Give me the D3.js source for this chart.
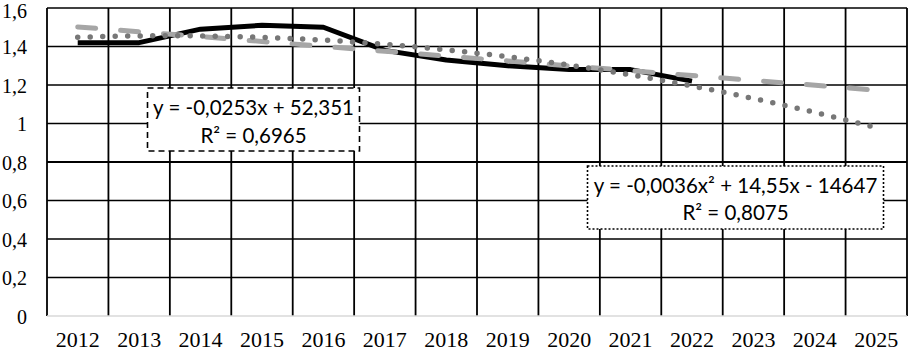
<!DOCTYPE html>
<html>
<head>
<meta charset="utf-8">
<script src="https://cdn.jsdelivr.net/npm/d3@7/dist/d3.min.js"></script>
<style>
  html, body { margin: 0; padding: 0; background: #fff; }
  svg { display: block; }
</style>
</head>
<body>
<svg id="chart" width="909" height="352"></svg>
<script>
// ---- data ----
const categories = ["2012","2013","2014","2015","2016","2017","2018","2019","2020","2021","2022","2023","2024","2025"];
const actualYears = ["2012","2013","2014","2015","2016","2017","2018","2019","2020","2021","2022"];
const actualValues = [1.42, 1.42, 1.49, 1.51, 1.50, 1.38, 1.33, 1.30, 1.28, 1.28, 1.22];
const yTicks = [0, 0.2, 0.4, 0.6, 0.8, 1, 1.2, 1.4, 1.6];
const yTickLabels = ["0", "0,2", "0,4", "0,6", "0,8", "1", "1,2", "1,4", "1,6"];
const linearLabel = ["y = -0,0253x + 52,351", "R² = 0,6965"];
const polyLabel = ["y = -0,0036x² + 14,55x - 14647", "R² = 0,8075"];

// ---- layout ----
const svg = d3.select("#chart");
const L = 47, R = 907, T = 8, B = 316;
const x = d3.scaleBand().domain(categories).range([L, R]).padding(0);
const y = d3.scaleLinear().domain([0, 1.6]).range([B, T]);
const cx = c => x(c) + x.bandwidth() / 2;

// ---- trend fits (least squares on the actual data, like Excel trendlines) ----
const n = actualValues.length;
const xs = actualValues.map((_, i) => i + 1);
function solve3(A, b) {
  const M = A.map((r, i) => [...r, b[i]]);
  for (let i = 0; i < 3; i++) {
    let p = i;
    for (let k = i + 1; k < 3; k++) if (Math.abs(M[k][i]) > Math.abs(M[p][i])) p = k;
    [M[i], M[p]] = [M[p], M[i]];
    for (let k = i + 1; k < 3; k++) {
      const f = M[k][i] / M[i][i];
      for (let j = i; j < 4; j++) M[k][j] -= f * M[i][j];
    }
  }
  const s = [0, 0, 0];
  for (let i = 2; i >= 0; i--) {
    let v = M[i][3];
    for (let j = i + 1; j < 3; j++) v -= M[i][j] * s[j];
    s[i] = v / M[i][i];
  }
  return s;
}
const mx = d3.mean(xs), my = d3.mean(actualValues);
const slope = d3.sum(xs, (v, i) => (v - mx) * (actualValues[i] - my)) / d3.sum(xs, v => (v - mx) ** 2);
const icpt = my - slope * mx;
const S = k => d3.sum(xs, v => v ** k);
const Sy = k => d3.sum(xs, (v, i) => v ** k * actualValues[i]);
const [c0, c1, c2] = solve3([[n, S(1), S(2)], [S(1), S(2), S(3)], [S(2), S(3), S(4)]], [Sy(0), Sy(1), Sy(2)]);

// ---- gridlines ----
const grid = svg.append("g");
grid.selectAll("line.h").data(yTicks.filter(d => d > 0)).join("line")
  .attr("x1", L).attr("x2", R)
  .attr("y1", d => y(d)).attr("y2", d => y(d))
  .attr("stroke", "#000").attr("stroke-width", d => d === 0.8 ? 2 : 1.3);
const vBounds = categories.map(c => x(c)).concat([R]);
grid.selectAll("line.v").data(vBounds).join("line")
  .attr("x1", d => d).attr("x2", d => d)
  .attr("y1", T).attr("y2", B)
  .attr("stroke", "#000").attr("stroke-width", 1.8);
svg.append("line").attr("x1", L).attr("x2", R).attr("y1", B).attr("y2", B)
  .attr("stroke", "#d9d9d9").attr("stroke-width", 1.6);

// ---- axis labels ----
svg.append("g").selectAll("text").data(yTicks).join("text")
  .attr("x", 27).attr("y", d => Math.max(y(d) + 7.5, 18))
  .attr("text-anchor", "end")
  .attr("font-family", "'Liberation Serif', 'Times New Roman', serif")
  .attr("font-size", 20).attr("fill", "#000")
  .text((d, i) => yTickLabels[i]);
svg.append("g").selectAll("text").data(categories).join("text")
  .attr("x", d => cx(d)).attr("y", 347)
  .attr("text-anchor", "middle")
  .attr("font-family", "'Liberation Serif', 'Times New Roman', serif")
  .attr("font-size", 22).attr("fill", "#000")
  .text(d => d);

// ---- actual series ----
const line = d3.line().x(d => cx(d[0])).y(d => y(d[1]));
svg.append("path")
  .datum(actualYears.map((c, i) => [c, actualValues[i]]))
  .attr("d", line)
  .attr("fill", "none").attr("stroke", "#000").attr("stroke-width", 5)
  .attr("stroke-linejoin", "round");

// ---- trendlines ----
const trendX = d3.range(0, categories.length * 10 - 9).map(k => 1 + k / 10);
const tx = d3.scaleLinear().domain([1, categories.length]).range([cx(categories[0]), cx(categories[categories.length - 1])]);
const polyPts = trendX.map(v => [tx(v), y(c0 + c1 * v + c2 * v * v)]);
const linPts = [1, categories.length].map(v => [tx(v), y(icpt + slope * v)]);

svg.append("path").attr("d", d3.line()(linPts))
  .attr("fill", "none").attr("stroke", "#a6a6a6").attr("stroke-width", 5)
  .attr("stroke-linecap", "round").attr("stroke-dasharray", "18 25");
svg.append("path").attr("d", d3.line()(polyPts))
  .attr("fill", "none").attr("stroke", "#777").attr("stroke-width", 5.5)
  .attr("stroke-linecap", "round").attr("stroke-dasharray", "0 12.5");

// ---- trendline labels ----
function labelBox(cxp, top, w, h, lines, dash, baseOffsets) {
  const g = svg.append("g");
  g.append("rect").attr("x", cxp - w / 2).attr("y", top).attr("width", w).attr("height", h)
    .attr("fill", "#fff").attr("stroke", "#000").attr("stroke-width", 1.6)
    .attr("stroke-dasharray", dash);
  g.selectAll("text").data(lines).join("text")
    .attr("x", cxp).attr("y", (d, i) => top + baseOffsets[i])
    .attr("text-anchor", "middle")
    .attr("font-family", "Lato, 'Open Sans', sans-serif")
    .attr("font-size", 20.5).attr("fill", "#000")
    .text(d => d);
}
labelBox(253.5, 88, 212, 63, linearLabel, "6 4", [27, 55]);
labelBox(735.5, 166, 296, 63, polyLabel, "2 2", [27, 54]);
</script>
</body>
</html>
